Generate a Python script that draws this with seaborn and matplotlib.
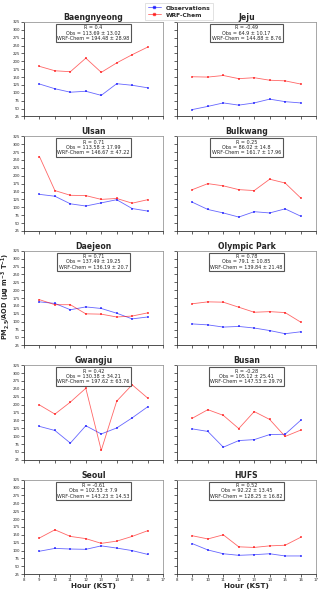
import numpy as np
import pandas as pd
import seaborn as sns
import matplotlib.pyplot as plt

hours = [9, 10, 11, 12, 13, 14, 15, 16]

sites = ["Baengnyeong", "Jeju", "Ulsan", "Bulkwang", "Daejeon",
         "Olympic Park", "Gwangju", "Busan", "Seoul", "HUFS"]

obs = {
    "Baengnyeong": [128, 113, 102, 105, 92, 129, 124, 116],
    "Jeju": [47, 57, 68, 61, 68, 80, 72, 68],
    "Ulsan": [141, 135, 111, 104, 114, 124, 96, 88],
    "Bulkwang": [116, 93, 82, 69, 86, 82, 95, 72],
    "Daejeon": [163, 158, 138, 147, 142, 127, 109, 115],
    "Olympic Park": [93, 90, 83, 85, 80, 72, 62, 68],
    "Gwangju": [131, 118, 78, 133, 107, 126, 158, 193],
    "Busan": [123, 115, 65, 86, 89, 105, 106, 150],
    "Seoul": [98, 107, 105, 104, 115, 108, 100, 88],
    "HUFS": [122, 102, 90, 85, 87, 90, 83, 83],
}

wrf = {
    "Baengnyeong": [184, 170, 167, 210, 165, 195, 221, 245],
    "Jeju": [151, 150, 155, 145, 148, 140, 138, 128],
    "Ulsan": [261, 153, 138, 137, 125, 128, 113, 124],
    "Bulkwang": [156, 175, 168, 156, 153, 189, 177, 130],
    "Daejeon": [170, 154, 154, 125, 124, 115, 118, 128],
    "Olympic Park": [157, 163, 162, 146, 130, 132, 129, 99],
    "Gwangju": [199, 170, 208, 252, 55, 211, 263, 221],
    "Busan": [157, 184, 166, 124, 178, 153, 99, 119],
    "Seoul": [140, 166, 145, 138, 123, 130, 145, 163],
    "HUFS": [147, 137, 150, 112, 110, 115, 117, 142],
}

stats = {
    "Baengnyeong": ("0.4", "113.69 ± 13.02", "194.48 ± 28.98"),
    "Jeju": ("-0.49", "64.9 ± 10.17", "144.88 ± 8.76"),
    "Ulsan": ("0.71", "113.58 ± 17.99", "146.67 ± 47.22"),
    "Bulkwang": ("0.25", "86.02 ± 14.8", "161.7 ± 17.96"),
    "Daejeon": ("0.71", "137.49 ± 19.25", "136.19 ± 20.7"),
    "Olympic Park": ("0.78", "79.1 ± 10.85", "139.84 ± 21.48"),
    "Gwangju": ("0.42", "130.38 ± 34.21", "197.62 ± 63.76"),
    "Busan": ("-0.28", "105.12 ± 25.41", "147.53 ± 29.79"),
    "Seoul": ("-0.61", "102.53 ± 7.9", "143.23 ± 14.53"),
    "HUFS": ("0.52", "92.22 ± 13.45", "128.25 ± 16.82"),
}

rows = []
for s in sites:
    for h, o, w in zip(hours, obs[s], wrf[s]):
        rows.append({"site": s, "hour": h, "value": o, "source": "Observations"})
        rows.append({"site": s, "hour": h, "value": w, "source": "WRF-Chem"})
df = pd.DataFrame(rows)

sns.set_style("ticks")
plt.rcParams["font.family"] = ["DejaVu Sans"]

fig, axes = plt.subplots(5, 2, figsize=(3.2, 5.92), dpi=100, sharex=True, sharey=True)
fig.subplots_adjust(left=0.075, right=0.9875, top=0.963, bottom=0.03,
                    wspace=0.1, hspace=0.21)

palette = {"Observations": "blue", "WRF-Chem": "red"}

for ax, s in zip(axes.flat, sites):
    sub = df[df["site"] == s]
    sns.lineplot(data=sub, x="hour", y="value", hue="source", palette=palette,
                 marker="s", markersize=1.5, markeredgewidth=0, linewidth=0.6,
                 alpha=0.6, ax=ax, legend=False)
    ax.set_title(s, fontsize=5.6, fontweight="bold", pad=1.5)
    r, o, w = stats[s]
    ax.text(0.5, 0.965, f"R = {r}\nObs = {o}\nWRF-Chem = {w}",
            transform=ax.transAxes, ha="center", va="top", fontsize=3.5,
            linespacing=1.1,
            bbox=dict(boxstyle="square,pad=0.3", fc="white", ec="#555555", lw=0.8))
    ax.set_xlim(8, 17)
    ax.set_ylim(25, 325)
    ax.set_xticks(range(8, 18))
    ax.set_yticks(range(25, 326, 25))
    ax.tick_params(labelsize=2.8, length=2, width=0.5, pad=1)
    ax.set_xlabel("")
    ax.set_ylabel("")
    for sp in ax.spines.values():
        sp.set_color("#999999")
        sp.set_linewidth(0.6)
    ax.spines["left"].set_color("#333333")
    ax.spines["bottom"].set_color("#333333")

for ax in axes[-1]:
    ax.set_xlabel("Hour (KST)", fontsize=5.2, fontweight="bold", labelpad=0.5)

fig.text(0.017, 0.5, r"PM$_{\mathbf{2.5}}$/AOD ($\mathbf{\mu}$g m$^{\mathbf{-3}}$ T$^{\mathbf{-1}}$)",
         rotation=90, ha="center", va="center", fontsize=4.7, fontweight="bold")

h1, = axes[0, 0].plot([], [], color="blue", marker="s", markersize=1.5, lw=0.6, alpha=0.6)
h2, = axes[0, 0].plot([], [], color="red", marker="s", markersize=1.5, lw=0.6, alpha=0.6)
leg = fig.legend([h1, h2], ["Observations", "WRF-Chem"], loc="upper left",
                 bbox_to_anchor=(0.445, 1.0), frameon=True,
                 handlelength=2.2, borderpad=0.4, labelspacing=0.3, fancybox=False,
                 prop={"weight": "bold", "size": 4.3})
leg.get_frame().set_linewidth(0.5)

fig.savefig("out.png", dpi=100)
